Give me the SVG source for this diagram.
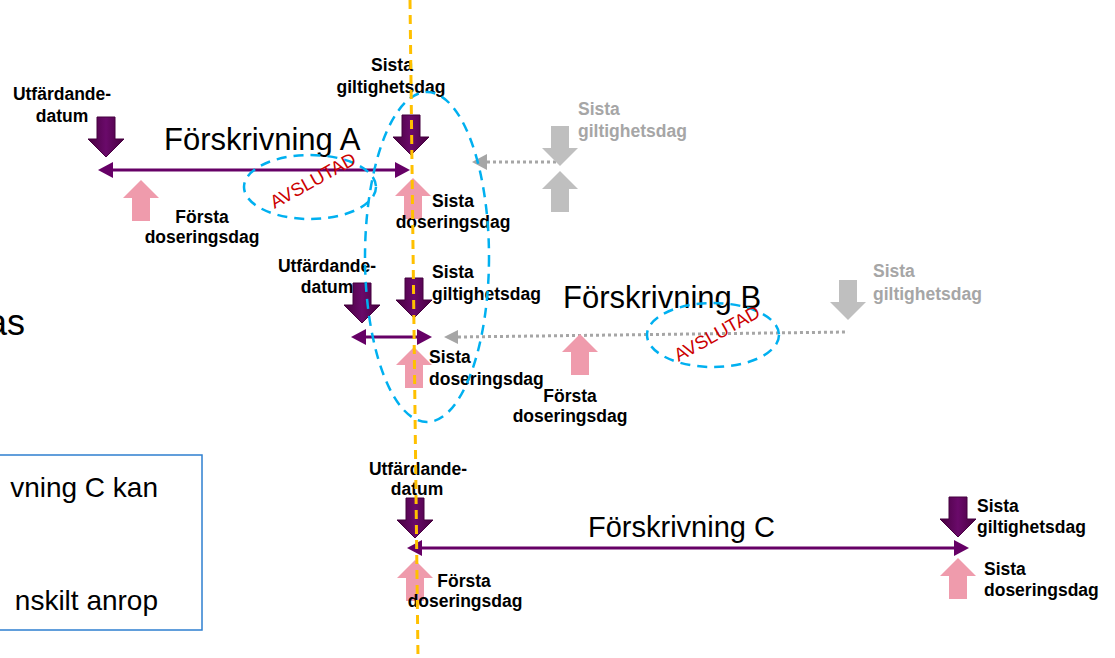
<svg xmlns="http://www.w3.org/2000/svg" width="1115" height="658" viewBox="0 0 1115 658">
<defs>
<linearGradient id="dg" x1="0" y1="0" x2="1" y2="0">
<stop offset="0" stop-color="#48003f"/><stop offset="0.5" stop-color="#6a0a6a"/><stop offset="1" stop-color="#48003f"/>
</linearGradient>
<path id="down" d="M-9,0 H9 V22 H18 L0,40 L-18,22 H-9 Z"/>
<path id="up" d="M0,0 L18,18 H9 V41 H-9 V18 H-18 Z"/>
</defs>
<style>
.dk{fill:url(#dg);stroke:#45003f;stroke-width:1}
.pk{fill:#ef9bac}
.gy{fill:#bfbfbf}
.lbl{font-family:"Liberation Sans",Arial,sans-serif;font-weight:bold;font-size:17.5px;fill:#000}
.glbl{font-family:"Liberation Sans",Arial,sans-serif;font-weight:bold;font-size:17.5px;fill:#a6a6a6}
.big{font-family:"Liberation Sans",Arial,sans-serif;font-size:31px;fill:#000}
.box{font-family:"Liberation Sans",Arial,sans-serif;font-size:28px;fill:#000}
.av{font-family:"Liberation Sans",Arial,sans-serif;font-size:18.5px;fill:#cc0000}
.pl{stroke:#660066;stroke-width:3;fill:none}
.ph{fill:#660066}
.dot{stroke:#a6a6a6;stroke-width:3;stroke-dasharray:3 3;fill:none}
.gh{fill:#a6a6a6}
.blue{fill:none;stroke:#00b0f0;stroke-width:2.5;stroke-dasharray:10 7}
.c{text-anchor:middle}
.e{text-anchor:end}
</style>
<rect width="1115" height="658" fill="#fff"/>

<g id="left-text">
<text class="box e" x="25" y="335" style="font-size:36px">as</text>
</g>
<g id="note-box">
<rect x="-10" y="455" width="212" height="175" fill="#fff" stroke="#2e7fd0" stroke-width="1.5"/>
<text class="box e" x="158" y="497">vning C kan</text>
<text class="box e" x="158" y="610">nskilt anrop</text>
</g>

<g id="connectors">
<line class="pl" x1="112" y1="170" x2="396" y2="170"/>
<polygon class="ph" points="98,170 113,162 113,178"/>
<polygon class="ph" points="410,170 395,162 395,178"/>
<line class="pl" x1="365" y1="337" x2="418" y2="337"/>
<polygon class="ph" points="351,337 366,329 366,345"/>
<polygon class="ph" points="432,337 417,329 417,345"/>
<line class="pl" x1="421" y1="548" x2="955" y2="548"/>
<polygon class="ph" points="407,548 422,540 422,556"/>
<polygon class="ph" points="969,548 954,540 954,556"/>
<line class="dot" x1="487" y1="162" x2="560" y2="162"/>
<polygon class="gh" points="472,162 487,154 487,170"/>
<line class="dot" x1="458" y1="337" x2="848" y2="332"/>
<polygon class="gh" points="444,337 458,330 458,344"/>
</g>

<g id="forskrivning-a">
<text class="big" x="164" y="150">Förskrivning A</text>
</g>
<g id="forskrivning-b">
<text class="big" x="563" y="308">Förskrivning B</text>
</g>
<g id="forskrivning-c">
<text class="big" x="588" y="537" style="font-size:29px">Förskrivning C</text>
</g>

<g id="a-utfardande">
<use href="#down" class="dk" x="106" y="117"/>
<text class="lbl c" x="62" y="100">Utfärdande-</text>
<text class="lbl c" x="62" y="122">datum</text>
</g>
<g id="a-forsta-dos">
<use href="#up" class="pk" x="141" y="180"/>
<text class="lbl c" x="202" y="223">Första</text>
<text class="lbl c" x="202" y="243">doseringsdag</text>
</g>
<g id="a-sista-gilt">
<use href="#down" class="dk" x="411" y="115"/>
<text class="lbl c" x="392" y="71">Sista</text>
<text class="lbl c" x="391" y="93">giltighetsdag</text>
</g>
<g id="a-sista-dos">
<use href="#up" class="pk" x="413" y="178"/>
<text class="lbl c" x="453" y="207">Sista</text>
<text class="lbl c" x="453" y="228">doseringsdag</text>
</g>
<g id="a-gray-gilt">
<use href="#down" class="gy" x="560" y="126"/>
<use href="#up" class="gy" x="560" y="171"/>
<text class="glbl" x="578" y="115">Sista</text>
<text class="glbl" x="578" y="137">giltighetsdag</text>
</g>
<g id="a-avslutad">
<ellipse class="blue" cx="310" cy="187" rx="66" ry="32"/>
<text class="av c" transform="translate(316,186) rotate(-29)">AVSLUTAD</text>
</g>

<g id="b-utfardande">
<use href="#down" class="dk" x="362" y="283"/>
<text class="lbl c" x="327" y="272">Utfärdande-</text>
<text class="lbl c" x="327" y="293">datum</text>
</g>
<g id="b-sista-gilt">
<use href="#down" class="dk" x="414" y="278"/>
<text class="lbl" x="432" y="278">Sista</text>
<text class="lbl" x="432" y="300">giltighetsdag</text>
</g>
<g id="b-sista-dos">
<use href="#up" class="pk" x="414" y="347"/>
<text class="lbl" x="429" y="363">Sista</text>
<text class="lbl" x="429" y="385">doseringsdag</text>
</g>
<g id="b-forsta-dos">
<use href="#up" class="pk" x="580" y="334"/>
<text class="lbl c" x="570" y="402">Första</text>
<text class="lbl c" x="570" y="422">doseringsdag</text>
</g>
<g id="b-gray-gilt">
<use href="#down" class="gy" x="848" y="280"/>
<text class="glbl" x="873" y="277">Sista</text>
<text class="glbl" x="873" y="300">giltighetsdag</text>
</g>
<g id="b-avslutad">
<ellipse class="blue" cx="713" cy="335" rx="66" ry="32"/>
<text class="av c" transform="translate(720,339) rotate(-29)">AVSLUTAD</text>
</g>

<g id="c-utfardande">
<use href="#down" class="dk" x="415" y="498"/>
<text class="lbl c" x="418" y="475">Utfärdande-</text>
<text class="lbl c" x="417" y="495">datum</text>
</g>
<g id="c-forsta-dos">
<use href="#up" class="pk" x="415" y="560"/>
<text class="lbl c" x="464" y="587">Första</text>
<text class="lbl c" x="465" y="607">doseringsdag</text>
</g>
<g id="c-sista-gilt">
<use href="#down" class="dk" x="958" y="497"/>
<text class="lbl" x="977" y="512">Sista</text>
<text class="lbl" x="977" y="533">giltighetsdag</text>
</g>
<g id="c-sista-dos">
<use href="#up" class="pk" x="958" y="558"/>
<text class="lbl" x="984" y="575">Sista</text>
<text class="lbl" x="984" y="596">doseringsdag</text>
</g>

<g id="group-ellipse">
<ellipse class="blue" cx="427" cy="257" rx="62" ry="165"/>
</g>
<g id="today-line">
<line x1="410" y1="0" x2="418" y2="658" stroke="#ffc000" stroke-width="3" stroke-dasharray="9 6"/>
</g>
</svg>
